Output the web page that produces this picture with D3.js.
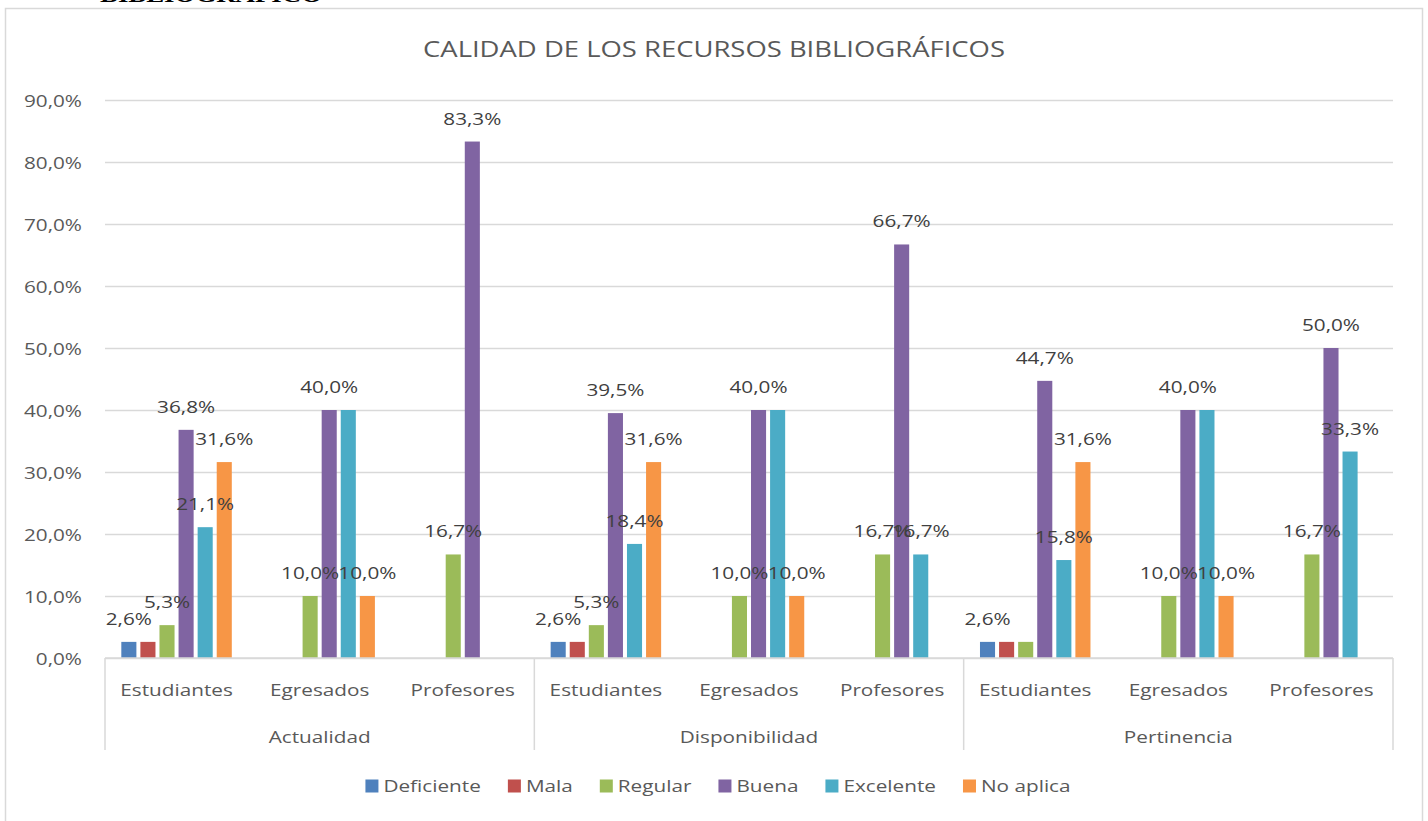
<!DOCTYPE html>
<html lang="es">
<head>
<meta charset="utf-8">
<script src="https://cdn.jsdelivr.net/npm/d3@7"></script>
<style>
  html, body { margin: 0; padding: 0; background: #ffffff; }
  svg { display: block; font-family: "Open Sans", "Noto Sans", sans-serif; }
</style>
</head>
<body>
<svg id="chart" width="1428" height="821"></svg>
<script>
// ---- data ----
const groups = ["Actualidad", "Disponibilidad", "Pertinencia"];
const audiences = ["Estudiantes", "Egresados", "Profesores"];
const seriesNames = ["Deficiente", "Mala", "Regular", "Buena", "Excelente", "No aplica"];
const seriesColors = ["#4F81BD", "#C0504D", "#9BBB59", "#8064A2", "#4BACC6", "#F79646"];

// one value per category, in order: Actualidad (Est, Egr, Prof), Disponibilidad (...), Pertinencia (...)
const deficiente = [2.6, 0, 0, 2.6, 0, 0, 2.6, 0, 0];
const mala       = [2.6, 0, 0, 2.6, 0, 0, 2.6, 0, 0];
const regular    = [5.3, 10, 16.7, 5.3, 10, 16.7, 2.6, 10, 16.7];
const buena      = [36.8, 40, 83.3, 39.5, 40, 66.7, 44.7, 40, 50.0];
const excelente  = [21.1, 40, 0, 18.4, 40, 16.7, 15.8, 40, 33.3];
const noAplica   = [31.6, 10, 0, 31.6, 10, 0, 31.6, 10, 0];

// which data labels are displayed (1 = shown)
const labelsDeficiente = [1, 0, 0, 1, 0, 0, 1, 0, 0];
const labelsMala       = [0, 0, 0, 0, 0, 0, 0, 0, 0];
const labelsRegular    = [1, 1, 1, 1, 1, 1, 0, 1, 1];
const labelsBuena      = [1, 1, 1, 1, 1, 1, 1, 1, 1];
const labelsExcelente  = [1, 0, 0, 1, 0, 1, 1, 0, 1];
const labelsNoAplica   = [1, 1, 0, 1, 1, 0, 1, 1, 0];

const yTicks = [0, 10, 20, 30, 40, 50, 60, 70, 80, 90];

const seriesValues = [deficiente, mala, regular, buena, excelente, noAplica];
const seriesLabels = [labelsDeficiente, labelsMala, labelsRegular, labelsBuena, labelsExcelente, labelsNoAplica];

// ---- layout ----
const W = 1428, H = 821;
const plot = { left: 105, right: 1393, top: 100, bottom: 658 };
const SX = 1.22;               // horizontal stretch applied to all text
const textColor = "#595959";
const labelColor = "#404040";
const gridColor = "#D9D9D9";
const fmt = v => d3.format(".1f")(v).replace(".", ",") + "%";

const svg = d3.select("#chart");
svg.append("rect").attr("width", W).attr("height", H).attr("fill", "#fff");

function stretchText(sel, x, y) {
  return sel.attr("x", 0).attr("y", 0)
    .attr("transform", `translate(${x},${y}) scale(${SX},1)`);
}

// heading cut off by the top edge
stretchText(svg.append("text"), 100, 2)
  .style("font-family", "'Liberation Serif', 'DejaVu Serif', serif")
  .attr("font-weight", "bold")
  .attr("font-size", 22)
  .attr("fill", "#000")
  .text("BIBLIOGRÁFICO");

// chart frame
svg.append("rect")
  .attr("x", 5.5).attr("y", 8.5)
  .attr("width", 1417).attr("height", 840)
  .attr("fill", "#fff")
  .attr("stroke", gridColor).attr("stroke-width", 1.5);

// title
stretchText(svg.append("text"), 714, 57)
  .attr("text-anchor", "middle")
  .attr("font-size", 22.5)
  .attr("fill", textColor)
  .text("CALIDAD DE LOS RECURSOS BIBLIOGRÁFICOS");

// ---- scales ----
const categories = d3.range(groups.length * audiences.length);
const x0 = d3.scaleBand().domain(categories).range([plot.left, plot.right]);
const x1 = d3.scaleBand().domain(seriesNames).range([0, x0.bandwidth()])
  .paddingInner(0.21).paddingOuter(0.855);
const y = d3.scaleLinear().domain([0, 90]).range([plot.bottom, plot.top]);

// gridlines
const grid = svg.append("g").attr("transform", `translate(${plot.left},0)`)
  .call(d3.axisLeft(y).tickValues(yTicks).tickSize(-(plot.right - plot.left)).tickFormat(""));
grid.select(".domain").remove();
grid.selectAll(".tick line").attr("stroke", gridColor).attr("stroke-width", 1.5);

// y axis labels
const yAxis = svg.append("g").attr("transform", `translate(${plot.left},0)`)
  .call(d3.axisLeft(y).tickValues(yTicks).tickSize(0).tickFormat(fmt));
yAxis.attr("font-family", null).attr("font-size", null);
yAxis.select(".domain").remove();
yAxis.selectAll(".tick text")
  .attr("font-size", 17)
  .attr("fill", textColor)
  .attr("dy", "0.36em")
  .attr("x", 0)
  .attr("transform", `translate(-23,0) scale(${SX},1)`);

// ---- bars ----
const barGroups = svg.append("g").selectAll("g")
  .data(categories).join("g")
  .attr("transform", c => `translate(${x0(c)},0)`);

barGroups.selectAll("rect")
  .data(c => seriesNames.map((s, i) => ({ s, i, v: seriesValues[i][c] })).filter(d => d.v > 0))
  .join("rect")
  .attr("x", d => x1(d.s))
  .attr("width", x1.bandwidth())
  .attr("y", d => y(d.v))
  .attr("height", d => y(0) - y(d.v))
  .attr("fill", d => seriesColors[d.i]);

// data labels
barGroups.each(function (c) {
  const g = d3.select(this);
  seriesNames.forEach((s, i) => {
    const v = seriesValues[i][c];
    if (!seriesLabels[i][c] || v <= 0) return;
    stretchText(g.append("text"), x1(s) + x1.bandwidth() / 2, y(v) - 17)
      .attr("text-anchor", "middle")
      .attr("font-size", 17)
      .attr("fill", labelColor)
      .text(fmt(v));
  });
});

// ---- category axis ----
svg.append("line")
  .attr("x1", plot.left).attr("x2", plot.right)
  .attr("y1", plot.bottom).attr("y2", plot.bottom)
  .attr("stroke", gridColor).attr("stroke-width", 1.5);

categories.forEach(c => {
  stretchText(svg.append("text"), x0(c) + x0.bandwidth() / 2, 696)
    .attr("text-anchor", "middle")
    .attr("font-size", 17)
    .attr("fill", textColor)
    .text(audiences[c % audiences.length]);
});

const groupWidth = x0.bandwidth() * audiences.length;
groups.forEach((gname, gi) => {
  const gx = x0(gi * audiences.length);
  stretchText(svg.append("text"), gx + groupWidth / 2, 743)
    .attr("text-anchor", "middle")
    .attr("font-size", 17)
    .attr("fill", textColor)
    .text(gname);
});

d3.range(groups.length + 1).forEach(k => {
  const gx = k < groups.length ? x0(k * audiences.length) : plot.right;
  svg.append("line")
    .attr("x1", gx).attr("x2", gx)
    .attr("y1", plot.bottom).attr("y2", 750)
    .attr("stroke", gridColor).attr("stroke-width", 1.5);
});

// ---- legend ----
const legend = svg.append("g");
const swatch = 13, swGap = 5, itemGap = 27, legendY = 786;
const items = seriesNames.map((name, i) => {
  const item = legend.append("g");
  item.append("rect").attr("width", swatch).attr("height", swatch)
    .attr("y", -swatch / 2).attr("fill", seriesColors[i]);
  const t = stretchText(item.append("text"), swatch + swGap, 0)
    .attr("dy", "0.36em")
    .attr("font-size", 17)
    .attr("fill", textColor)
    .text(name);
  const w = swatch + swGap + t.node().getComputedTextLength() * SX;
  return { item, w };
});
const totalW = d3.sum(items, d => d.w) + itemGap * (items.length - 1);
let lx = 718 - totalW / 2;
items.forEach(d => {
  d.item.attr("transform", `translate(${lx},${legendY})`);
  lx += d.w + itemGap;
});
</script>
</body>
</html>
